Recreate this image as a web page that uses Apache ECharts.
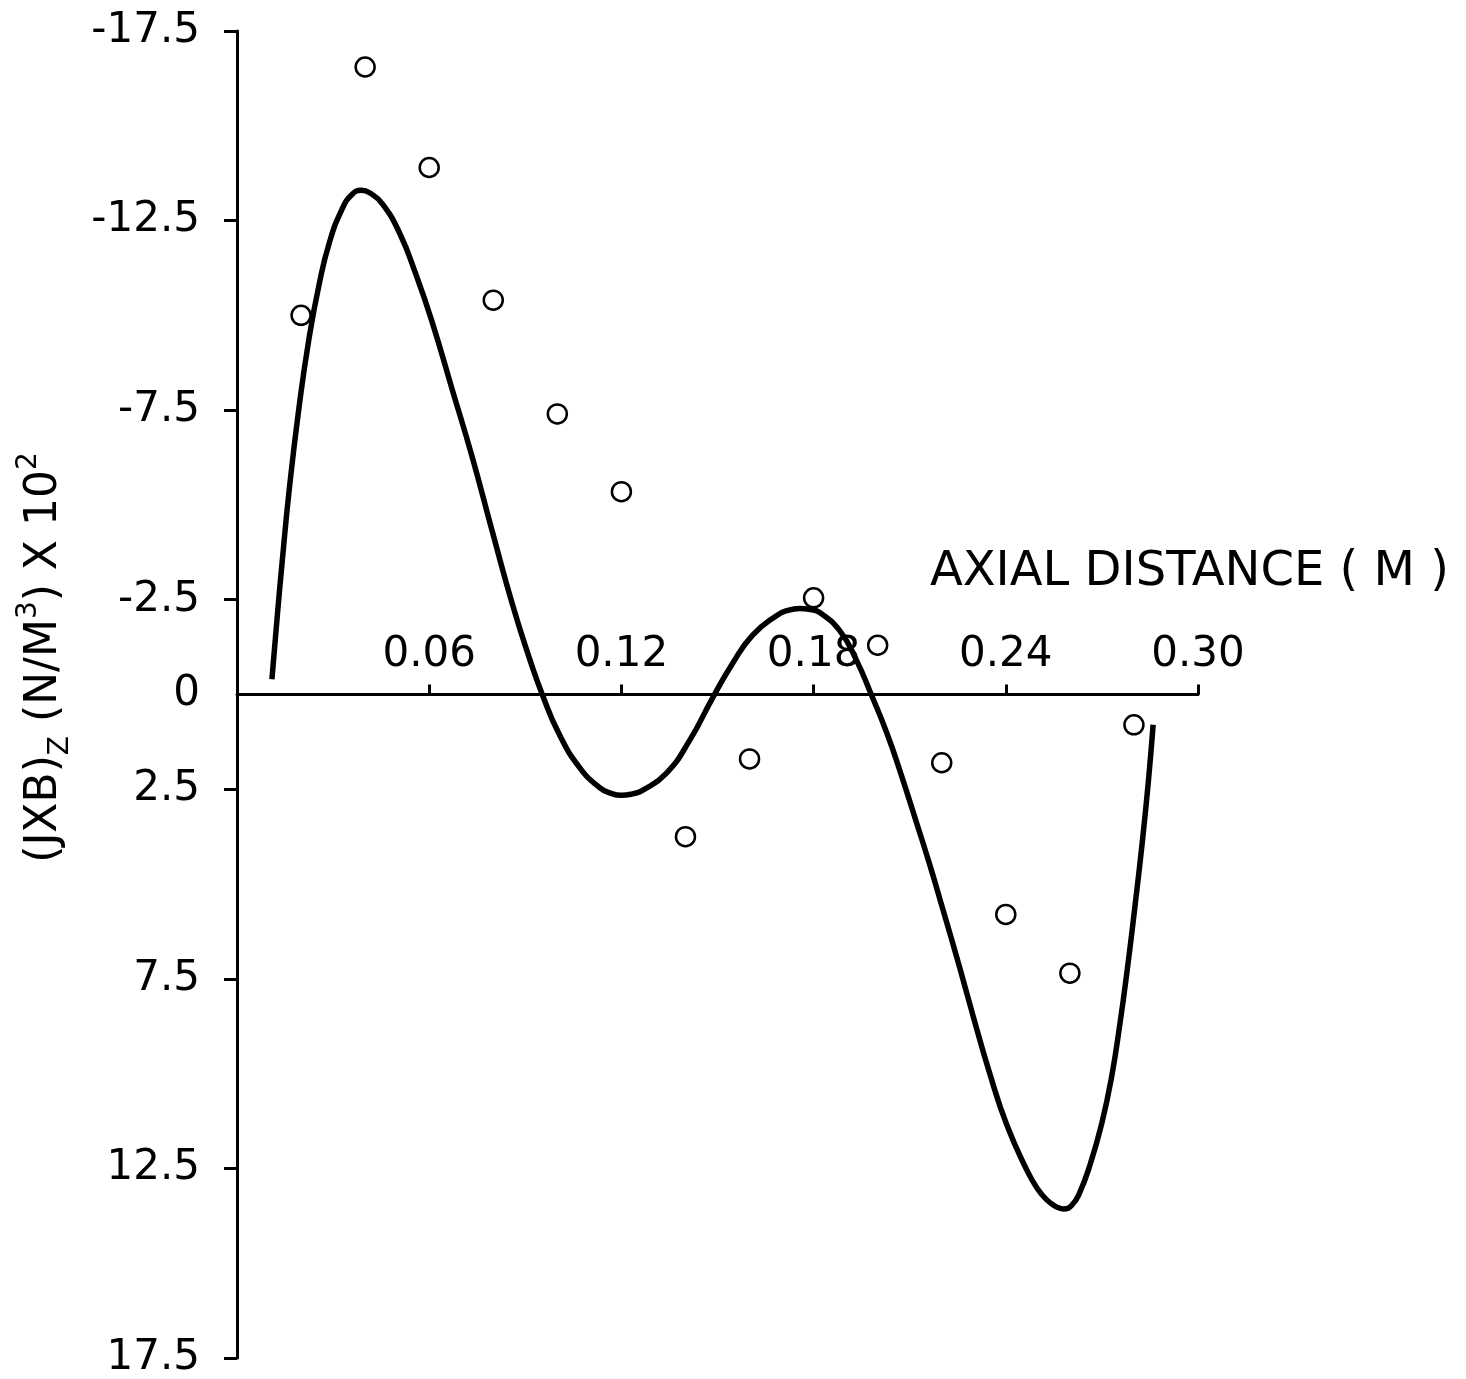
<!DOCTYPE html>
<html>
<head>
<meta charset="utf-8">
<title>JXB axial distance</title>
<script src="https://cdn.jsdelivr.net/npm/echarts@6/dist/echarts.min.js"></script>
<style>
  html, body { margin: 0; padding: 0; background: #fff; }
  #main { width: 1466px; height: 1379px; }
</style>
</head>
<body>
<div id="main"></div>
<script>
// fitted curve
var curveX = [0.0109, 0.0125, 0.0141, 0.0163, 0.0194, 0.0225, 0.0256, 0.0288, 0.0328, 0.0358,
  0.0388, 0.0420, 0.0453, 0.0506, 0.0559, 0.0609, 0.0672, 0.0734, 0.0797, 0.0859,
  0.0913, 0.0953, 0.1006, 0.1069, 0.1131, 0.1165, 0.1200, 0.1235, 0.1266, 0.1340,
  0.1413, 0.1484, 0.1547, 0.1609, 0.1684, 0.1720, 0.1756, 0.1790, 0.1819, 0.1881,
  0.1934, 0.1980, 0.2028, 0.2069, 0.2122, 0.2163, 0.2203, 0.2256, 0.2297, 0.2350,
  0.2403, 0.2466, 0.2500, 0.2528, 0.2555, 0.2580, 0.2605, 0.2630, 0.2665, 0.2700,
  0.2730, 0.2756, 0.2780, 0.2803, 0.2826, 0.2845, 0.2860];
var curveY = [-0.4, -2.0, -3.5, -5.4, -7.6, -9.4, -10.8, -11.91, -12.80, -13.18,
  -13.30, -13.20, -12.95, -12.20, -11.07, -9.83, -8.04, -6.27, -4.30, -2.40,
  -0.95, 0.00, 1.05, 1.92, 2.45, 2.60, 2.66, 2.62, 2.53, 2.08,
  1.21, 0.10, -0.82, -1.56, -2.08, -2.22, -2.27, -2.24, -2.16, -1.69,
  -0.90, 0.00, 1.00, 2.00, 3.40, 4.50, 5.65, 7.20, 8.45, 10.00,
  11.35, 12.55, 13.05, 13.33, 13.50, 13.57, 13.48, 13.15, 12.35, 11.30,
  10.10, 8.70, 7.20, 5.60, 3.90, 2.30, 0.80];

// measured points
var pointX = [0.02, 0.04, 0.06, 0.08, 0.10, 0.12, 0.14, 0.16, 0.18, 0.20, 0.22, 0.24, 0.26, 0.28];
var pointY = [-10.0, -16.55, -13.9, -10.4, -7.4, -5.35, 3.75, 1.7, -2.55, -1.3, 1.8, 5.8, 7.35, 0.8];

// axis ticks
var xTicks = [0.06, 0.12, 0.18, 0.24, 0.30];
var yTicks = [-17.5, -12.5, -7.5, -2.5, 2.5, 7.5, 12.5, 17.5];
var yLabels = [-17.5, -12.5, -7.5, -2.5, 0, 2.5, 7.5, 12.5, 17.5];

var font = 'DejaVu Sans';

function zip(a, b) {
  var arr = [];
  for (let i = 0; i < a.length; i++) arr.push([a[i], b[i]]);
  return arr;
}

var chart = echarts.init(document.getElementById('main'));
var option = {
  backgroundColor: '#fff',
  animation: false,
  textStyle: { fontFamily: font, color: '#000' },
  grid: [
    { left: 237, right: 268, top: 31, bottom: 21, outerBoundsMode: 'none' },
    // upper half only: its bottom edge sits on the zero line, carries the x ticks/labels
    { left: 237, right: 268, top: 31, bottom: 684.5, outerBoundsMode: 'none' }
  ],
  xAxis: [
    {
      type: 'value',
      gridIndex: 0,
      min: 0,
      max: 0.30,
      name: 'AXIAL DISTANCE ( M )',
      nameLocation: 'end',
      nameGap: 251,
      nameTextStyle: {
        fontFamily: font, fontSize: 48, color: '#000', lineHeight: 48,
        align: 'right', verticalAlign: 'bottom', padding: [0, 0, 98, 0]
      },
      axisLine: { onZero: true, lineStyle: { color: '#000', width: 3 } },
      axisTick: { show: false },
      axisLabel: { show: false },
      splitLine: { show: false }
    },
    {
      type: 'value',
      gridIndex: 1,
      min: 0,
      max: 0.30,
      position: 'bottom',
      axisLine: { show: false, onZero: false },
      axisTick: { show: true, inside: true, length: 10, customValues: xTicks, lineStyle: { color: '#000', width: 3 } },
      axisLabel: {
        inside: true, margin: 18, customValues: xTicks,
        fontFamily: font, fontSize: 42, color: '#000',
        formatter: function (v) { return v.toFixed(2); }
      },
      splitLine: { show: false }
    }
  ],
  yAxis: [
    {
      type: 'value',
      gridIndex: 0,
      inverse: true,
      min: -17.5,
      max: 17.5,
      name: '(JXB){sub|Z} (N/M{sup|3}) X 10{sup|2}',
      nameLocation: 'middle',
      nameRotate: 90,
      nameGap: 162,
      nameTextStyle: {
        fontFamily: font, fontSize: 44, color: '#000', lineHeight: 60,
        padding: [0, 0, 0, 74],
        rich: {
          sub: { fontFamily: font, fontSize: 28, lineHeight: 30, verticalAlign: 'bottom', color: '#000' },
          sup: { fontFamily: font, fontSize: 28, lineHeight: 30, verticalAlign: 'top', color: '#000' }
        }
      },
      axisLine: { show: true, lineStyle: { color: '#000', width: 3 } },
      axisTick: { show: true, length: 13, customValues: yTicks, lineStyle: { color: '#000', width: 3 } },
      axisLabel: {
        margin: 37, customValues: yLabels,
        fontFamily: font, fontSize: 42, color: '#000',
        formatter: function (v) { return v === 0 ? '0' : v.toFixed(1); }
      },
      splitLine: { show: false }
    },
    {
      type: 'value',
      gridIndex: 1,
      show: false
    }
  ],
  series: [
    {
      name: 'curve',
      type: 'line',
      data: zip(curveX, curveY),
      smooth: 0.5,
      showSymbol: false,
      symbol: 'none',
      lineStyle: { color: '#000', width: 5.5 },
      z: 2
    },
    {
      name: 'points',
      type: 'scatter',
      data: zip(pointX, pointY),
      symbol: 'circle',
      symbolSize: 19,
      itemStyle: { color: '#fff', borderColor: '#000', borderWidth: 2.5, opacity: 1 },
      z: 3
    }
  ]
};
chart.setOption(option);
</script>
</body>
</html>
